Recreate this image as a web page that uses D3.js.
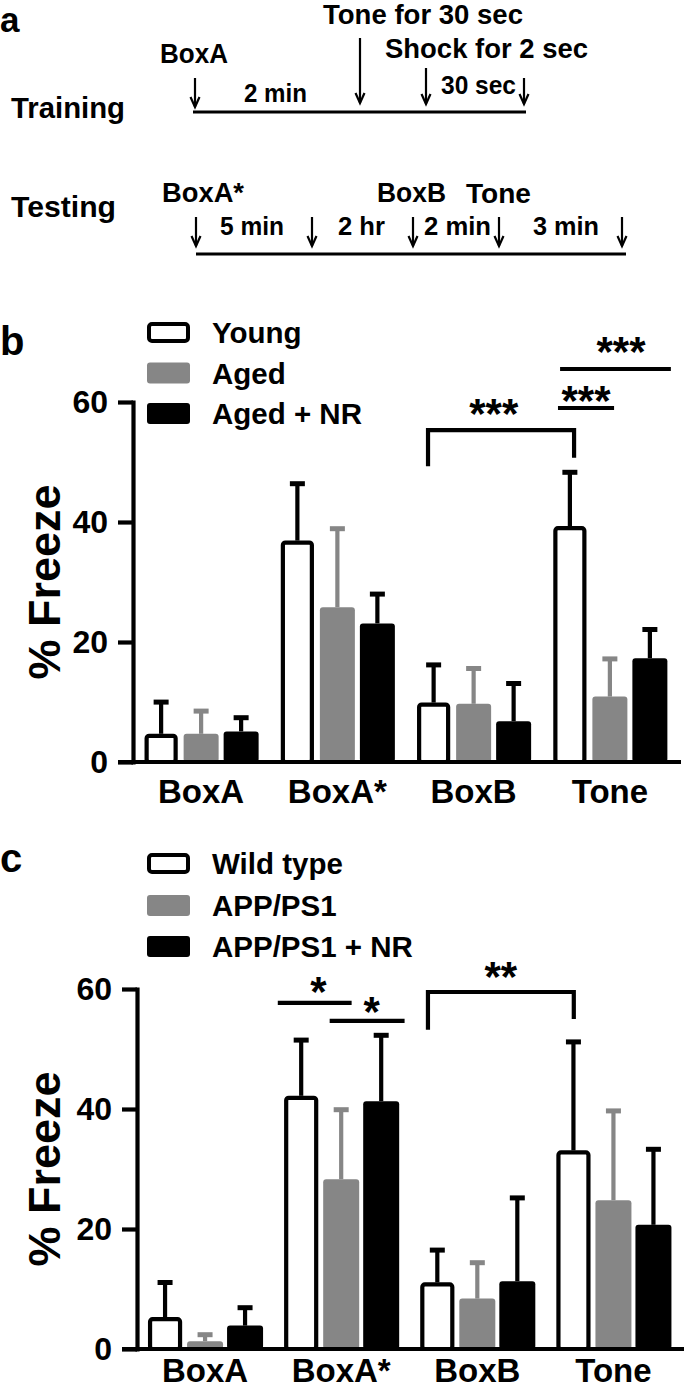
<!DOCTYPE html>
<html><head><meta charset="utf-8">
<script src="https://cdn.jsdelivr.net/npm/d3@7"></script>
<style>body{margin:0;background:#fff}svg{display:block}</style>
</head><body>
<svg id="fig" width="685" height="1388"></svg>
<script>
// ---------- data ----------
const categories = ["BoxA", "BoxA*", "BoxB", "Tone"];
const seriesB = ["Young", "Aged", "Aged + NR"];
const youngMean = [4.7, 36.9, 9.9, 39.3];
const youngSem  = [5.7, 9.9, 6.7, 9.4];
const agedMean  = [4.7, 25.8, 9.7, 10.9];
const agedSem   = [4.2, 13.5, 6.3, 6.7];
const agedNRMean = [5.1, 23.1, 6.8, 17.3];
const agedNRSem  = [2.7, 5.3, 6.7, 5.2];

const seriesC = ["Wild type", "APP/PS1", "APP/PS1 + NR"];
const wtMean = [5.3, 42.2, 11.1, 33.1];
const wtSem  = [6.2, 9.7, 5.8, 18.5];
const appMean = [1.3, 28.3, 8.4, 24.8];
const appSem  = [1.5, 12.0, 6.4, 15.3];
const appNRMean = [3.9, 41.3, 11.3, 20.7];
const appNRSem  = [3.4, 11.4, 14.3, 13.0];

const yTicks = [0, 20, 40, 60];
const yLabel = "% Freeze";

// significance annotations: [category, series, fraction of bar width]
const sigB = [
  {kind: "bracket", a: ["BoxB", 0, 0.34], b: ["Tone", 0, 0.62], top: 55.3, legA: 49.3, legB: 50.7, label: "***", gap: 15, lf: 0.45},
  {kind: "line", a: ["Tone", 0, 0.16], b: ["Tone", 1, 0.62], top: 59.0, label: "***", gap: 6, lf: 0.5},
  {kind: "line", a: ["Tone", 0, 0.22], b: ["Tone", 2, 1.10], top: 65.5, label: "***", gap: 16, lf: 0.55}
];
const sigC = [
  {kind: "line", a: ["BoxA*", 0, -0.15], b: ["BoxA*", 1, 0.79], top: 57.7, label: "*", gap: 10, lf: 0.55},
  {kind: "line", a: ["BoxA*", 1, 0.18], b: ["BoxA*", 2, 1.15], top: 54.7, label: "*", gap: 8, lf: 0.56},
  {kind: "bracket", a: ["BoxB", 0, 0.24], b: ["Tone", 0, 0.51], top: 59.5, legA: 53.2, legB: 55.0, label: "**", gap: 14, lf: 0.5}
];

// ---------- style ----------
const FONT = "'Liberation Sans', Arial, Helvetica, sans-serif";
const GRAY = "#868686";
const fills = ["#ffffff", GRAY, "#000000"];
const svg = d3.select("#fig");

function text(g, x, y, s, size, opt = {}) {
  const t = g.append("text").attr("x", x).attr("y", y).text(s)
    .attr("font-family", FONT).attr("font-weight", "bold")
    .attr("font-size", size).attr("fill", "#000")
    .attr("text-anchor", opt.anchor || "start");
  if (opt.len) t.attr("textLength", opt.len).attr("lengthAdjust", "spacingAndGlyphs");
  return t;
}

// ---------- panel a (timeline) ----------
const ga = svg.append("g");
text(ga, 0, 32, "a", 35);
text(ga, 11, 118, "Training", 29, {len: 114});
text(ga, 11, 217, "Testing", 29, {len: 105});

function arrow(g, x, y1, y2) {
  g.append("path").attr("d", `M${x},${y1}V${y2}`).attr("stroke", "#000").attr("stroke-width", 2.2).attr("fill", "none");
  g.append("path").attr("d", `M${x - 4.5},${y2 - 10}L${x},${y2}L${x + 4.5},${y2 - 10}`)
    .attr("stroke", "#000").attr("stroke-width", 2.2).attr("fill", "none");
}
ga.append("path").attr("d", "M193,112H526").attr("stroke", "#000").attr("stroke-width", 3);
arrow(ga, 195, 78, 107);
arrow(ga, 360, 38, 103);
arrow(ga, 426, 68, 104);
arrow(ga, 524, 78, 104);
text(ga, 160, 63, "BoxA", 27, {len: 68});
text(ga, 323, 24, "Tone for 30 sec", 27, {len: 200});
text(ga, 385, 58, "Shock for 2 sec", 27, {len: 203});
text(ga, 244, 102, "2 min", 25, {len: 63});
text(ga, 441, 94, "30 sec", 25, {len: 75});

ga.append("path").attr("d", "M196,254H626").attr("stroke", "#000").attr("stroke-width", 3);
[196, 312, 413, 499, 622].forEach(x => arrow(ga, x, 217, 246));
text(ga, 162, 202, "BoxA*", 27, {len: 82});
text(ga, 377, 202, "BoxB", 27, {len: 69});
text(ga, 466, 203, "Tone", 27, {len: 65});
text(ga, 220, 235, "5 min", 25, {len: 64});
text(ga, 338, 235, "2 hr", 25, {len: 47});
text(ga, 424, 235, "2 min", 25, {len: 67});
text(ga, 533, 235, "3 min", 25, {len: 66});

// ---------- bar panels ----------
function barPanel(cfg) {
  const g = svg.append("g");
  const y = d3.scaleLinear().domain([0, 60]).range([cfg.y0, cfg.y60]);
  const x = d3.scaleBand().domain(categories).range([cfg.axisX, cfg.xEnd]);
  const xi = d3.scaleBand().domain(d3.range(3)).range([-cfg.inner / 2, cfg.inner / 2]).paddingInner(cfg.pad);
  const bw = xi.bandwidth();
  const cx = c => x(c) + x.bandwidth() / 2;
  const pos = (c, s, f) => cx(c) + xi(s) + f * bw;

  // panel letter
  text(g, 0, cfg.letterY, cfg.letter, 40);

  // legend
  cfg.series.forEach((name, i) => {
    const top = cfg.legTop[i];
    const r = g.append("rect").attr("rx", 3).attr("ry", 3);
    if (i === 0) {
      r.attr("x", 149).attr("y", top + 2).attr("width", 39).attr("height", 17)
        .attr("fill", "#fff").attr("stroke", "#000").attr("stroke-width", 4);
    } else {
      r.attr("x", 147).attr("y", top).attr("width", 43).attr("height", 21).attr("fill", fills[i]);
    }
    text(g, 212, top + 21, name, 29.5);
  });

  // bars + error bars
  cfg.means.forEach((arr, s) => {
    arr.forEach((v, k) => {
      const c = categories[k];
      const bx = cx(c) + xi(s);
      const col = s === 1 ? GRAY : "#000";
      const mx = bx + bw / 2;
      const topV = v + cfg.sems[s][k];
      g.append("path").attr("d", `M${mx},${y(v)}V${y(topV) + 2}`)
        .attr("stroke", col).attr("stroke-width", 4.2);
      g.append("path").attr("d", `M${mx - 7.5},${y(topV) + 2.5}H${mx + 7.5}`)
        .attr("stroke", col).attr("stroke-width", 5);
      if (s === 0) {
        g.append("rect").attr("x", bx + 3).attr("y", y(v) + 2).attr("width", bw - 6)
          .attr("height", cfg.y0 - y(v) - 2).attr("rx", 2.5)
          .attr("fill", "#fff").attr("stroke", "#000").attr("stroke-width", 4.2);
      } else {
        g.append("rect").attr("x", bx).attr("y", y(v)).attr("width", bw)
          .attr("height", cfg.y0 - y(v)).attr("rx", 3).attr("fill", fills[s]);
      }
    });
  });

  // axes
  const axL = d3.axisLeft(y).tickValues(yTicks).tickSize(15).tickSizeOuter(0).tickPadding(10);
  const ay = g.append("g").attr("transform", `translate(${cfg.axisX},0)`).call(axL);
  ay.select(".domain").attr("stroke-width", 4.2).attr("stroke-linecap", "square");
  ay.selectAll(".tick line").attr("stroke-width", 4.2);
  ay.selectAll(".tick text").attr("font-family", FONT).attr("font-weight", "bold")
    .attr("font-size", 32).attr("fill", "#000");
  g.append("path").attr("d", `M${cfg.axisX - 15},${cfg.y0}H${cfg.xAxisEnd}`)
    .attr("stroke", "#000").attr("stroke-width", 4.2);

  const axB = d3.axisBottom(x).tickSize(0);
  const ab = g.append("g").attr("transform", `translate(0,${cfg.y0})`).call(axB);
  ab.select(".domain").remove();
  ab.selectAll(".tick text").attr("font-family", FONT).attr("font-weight", "bold")
    .attr("font-size", 33).attr("fill", "#000").attr("dy", null).attr("y", cfg.xLabelY - cfg.y0);

  // y label
  g.append("text").attr("transform", `translate(60,${(cfg.y0 + cfg.y60) / 2}) rotate(-90)`)
    .attr("text-anchor", "middle").attr("font-family", FONT).attr("font-weight", "bold")
    .attr("font-size", 45).text(yLabel);

  // significance
  cfg.sig.forEach(a => {
    const xa = pos(a.a[0], a.a[1], a.a[2]);
    const xb = pos(a.b[0], a.b[1], a.b[2]);
    const d = a.kind === "bracket"
      ? `M${xa},${y(a.legA)}V${y(a.top)}H${xb}V${y(a.legB)}`
      : `M${xa},${y(a.top)}H${xb}`;
    g.append("path").attr("d", d).attr("fill", "none").attr("stroke", "#000").attr("stroke-width", 4.2);
    text(g, xa + a.lf * (xb - xa), y(a.top) - a.gap + 13, a.label, 42, {anchor: "middle"});
  });
}

barPanel({
  letter: "b", letterY: 355, series: seriesB, legTop: [322, 362.5, 403],
  means: [youngMean, agedMean, agedNRMean], sems: [youngSem, agedSem, agedNRSem],
  y0: 762, y60: 402, axisX: 133, xEnd: 678, xAxisEnd: 681, inner: 115, pad: 0.125,
  xLabelY: 803, sig: sigB
});
barPanel({
  letter: "c", letterY: 872, series: seriesC, legTop: [853, 895, 936],
  means: [wtMean, appMean, appNRMean], sems: [wtSem, appSem, appNRSem],
  y0: 1349, y60: 989, axisX: 137, xEnd: 681.5, xAxisEnd: 684, inner: 116, pad: 0.1,
  xLabelY: 1382, sig: sigC
});
</script>
</body></html>
